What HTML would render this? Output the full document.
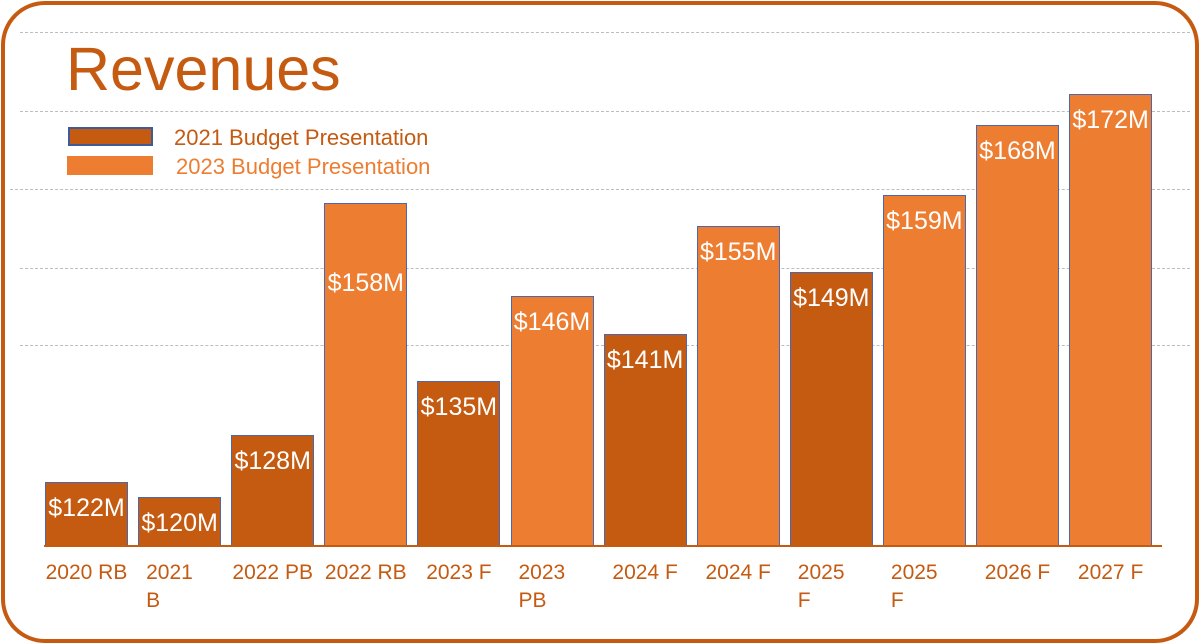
<!DOCTYPE html>
<html><head><meta charset="utf-8"><style>
body{margin:0;width:1200px;height:644px;background:#fff;overflow:hidden;font-family:"Liberation Sans",Arial,sans-serif}
#frame{position:absolute;left:1px;top:1px;width:1190px;height:634px;border:4px solid #c55a11;border-radius:44px}
.grid{position:absolute;height:0;border-top:1px dashed #bdbdbd}
#title{position:absolute;left:66px;top:34px;font-size:61px;color:#c55a11}
.lg{position:absolute;font-size:22px}
.sw{position:absolute;box-sizing:border-box}
.bar{position:absolute;box-sizing:border-box;border:1.5px solid #4a67b0}
.val{position:absolute;color:#fff;font-size:25px;text-align:center}
.cat{position:absolute;color:#c55a11;font-size:21px;text-align:center;white-space:pre-line;line-height:28px}
</style></head><body>
<div id="frame"></div>
<div class="grid" style="left:20px;top:32px;width:1170px"></div>
<div class="grid" style="left:20px;top:111px;width:1170px"></div>
<div class="grid" style="left:10px;top:189px;width:1180px"></div>
<div class="grid" style="left:20px;top:268px;width:1170px"></div>
<div class="grid" style="left:20px;top:345px;width:1170px"></div>
<div id="title">Revenues</div>
<div class="sw" style="left:68px;top:127px;width:85px;height:19px;background:#c55a11;border:2px solid #3f5a9a"></div>
<div class="lg" style="left:174px;top:125px;color:#c55a11">2021 Budget Presentation</div>
<div class="sw" style="left:67px;top:156px;width:86px;height:19px;background:#ed7d31"></div>
<div class="lg" style="left:176px;top:154px;color:#ed7d31">2023 Budget Presentation</div>
<div id="plot"></div>
<div style="position:absolute;left:44px;top:545px;width:1118px;height:2px;background:#c55a11"></div>
<script>
const categories=["2020 RB","2021\nB","2022 PB","2022 RB","2023 F","2023\nPB","2024 F","2024 F","2025\nF","2025\nF","2026 F","2027 F"];
const values=[122,120,128,158,135,146,141,155,149,159,168,172];
const series=[0,0,0,1,0,1,0,1,0,1,1,1];
const valueLabels=["$122M","$120M","$128M","$158M","$135M","$146M","$141M","$155M","$149M","$159M","$168M","$172M"];
const colors=["#c55a11","#ed7d31"];
const base=546,vmin=113.7,scale=7.75,x0=45,step=93.1,bw=83;
function y(v){return base-(v-vmin)*scale;}
function x(i){return x0+i*step;}
const plot=document.getElementById('plot');
values.forEach((v,i)=>{
  const b=document.createElement('div');
  
  
  b.className='bar';
  b.style.left=x(i)+'px';b.style.top=y(v)+'px';b.style.width=bw+'px';b.style.height=(base-y(v))+'px';
  b.style.background=colors[series[i]];
  plot.appendChild(b);
  const l=document.createElement('div');
  
  
  l.className='val';
  l.textContent=valueLabels[i];
  const off=(i===3)?66:12;
  l.style.left=(x(i)-8)+'px';l.style.width=(bw+16)+'px';l.style.top=(y(v)+off)+'px';
  plot.appendChild(l);
  const c=document.createElement('div');
  
  
  c.className='cat';
  c.textContent=categories[i];
  c.style.left=(x(i)-10)+'px';c.style.width=(bw+20)+'px';c.style.top='559px';
  if(categories[i].indexOf('\n')>=0){c.style.textAlign='left';c.style.left=(x(i)+8)+'px';}
  plot.appendChild(c);
});
</script>
</body></html>
